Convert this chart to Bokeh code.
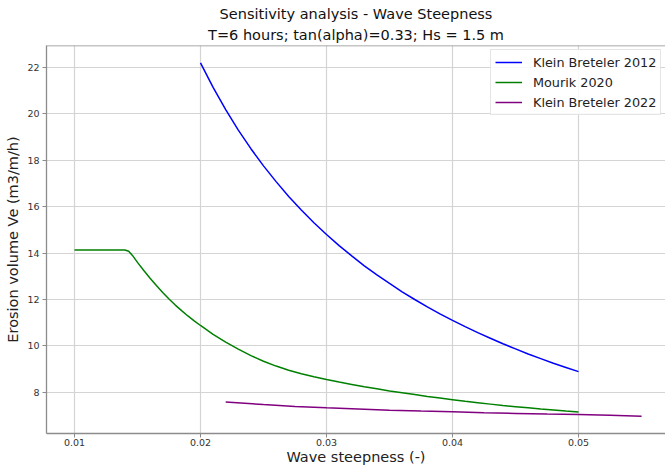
from bokeh.plotting import figure
from bokeh.models import (Title, FixedTicker, PrintfTickFormatter, Legend,
                          LegendItem, Range1d, Span)
from bokeh.embed import file_html
from bokeh.resources import INLINE

# ---- data ----
steep_kb2012 = [0.020, 0.021, 0.022, 0.023, 0.024, 0.025, 0.026, 0.027,
                0.028, 0.029, 0.030, 0.031, 0.032, 0.033, 0.034, 0.035,
                0.036, 0.037, 0.038, 0.039, 0.040, 0.041, 0.042, 0.043,
                0.044, 0.045, 0.046, 0.047, 0.048, 0.049, 0.050]
ve_kb2012 = [22.20, 21.14, 20.18, 19.30, 18.50, 17.76, 17.08, 16.44,
             15.86, 15.31, 14.80, 14.32, 13.88, 13.45, 13.06, 12.69,
             12.33, 12.00, 11.68, 11.38, 11.10, 10.83, 10.57, 10.33,
             10.09, 9.87, 9.65, 9.45, 9.25, 9.07, 8.89]

steep_mourik = [0.0100, 0.0140, 0.0143, 0.0146, 0.0150, 0.0155, 0.0160,
                0.0165, 0.0170, 0.0175, 0.0180, 0.0185, 0.0190, 0.0195,
                0.020, 0.021, 0.022, 0.023, 0.024, 0.025, 0.026, 0.027,
                0.028, 0.029, 0.030, 0.031, 0.032, 0.033, 0.034, 0.035,
                0.036, 0.037, 0.038, 0.039, 0.040, 0.041, 0.042, 0.043,
                0.044, 0.045, 0.046, 0.047, 0.048, 0.049, 0.050]
ve_mourik = [14.13, 14.13, 14.08, 13.90, 13.60, 13.25, 12.92,
             12.60, 12.30, 12.02, 11.76, 11.52, 11.29, 11.08,
             10.88, 10.50, 10.16, 9.86, 9.58, 9.34, 9.13, 8.95,
             8.80, 8.67, 8.55, 8.44, 8.34, 8.24, 8.15, 8.06,
             7.98, 7.90, 7.82, 7.75, 7.68, 7.61, 7.55, 7.49,
             7.43, 7.38, 7.33, 7.28, 7.24, 7.19, 7.15]

steep_kb2022 = [0.022, 0.025, 0.0275, 0.030, 0.0325, 0.035, 0.0375, 0.040,
                0.0425, 0.045, 0.0475, 0.050, 0.0525, 0.055]
ve_kb2022 = [7.58, 7.47, 7.39, 7.33, 7.28, 7.23, 7.19, 7.16,
             7.12, 7.09, 7.06, 7.04, 7.01, 6.97]

x_ticks = [0.01, 0.02, 0.03, 0.04, 0.05]
y_ticks = [8, 10, 12, 14, 16, 18, 20, 22]

title_main = "Sensitivity analysis - Wave Steepness"
title_sub = "T=6 hours; tan(alpha)=0.33; Hs = 1.5 m"
x_label = "Wave steepness (-)"
y_label = "Erosion volume Ve (m3/m/h)"
names = ["Klein Breteler 2012", "Mourik 2020", "Klein Breteler 2022"]
colors = ["#0000ff", "#008000", "#800080"]

FONT = "DejaVu Sans"
SPINE = "#8c8c8c"
Y_TOP = 22.948

p = figure(width=665, height=468, output_backend="svg", toolbar_location=None,
           x_range=Range1d(0.00778, 0.0569), y_range=Range1d(6.224, Y_TOP),
           min_border_left=46, min_border_right=0, min_border_top=45,
           min_border_bottom=35, background_fill_color="white",
           border_fill_color="white")

p.add_layout(Title(text=title_sub, align="center", text_font=FONT,
                   text_font_size="14.5px", text_font_style="normal",
                   text_color="#111111", standoff=5), "above")
p.add_layout(Title(text=title_main, align="center", text_font=FONT,
                   text_font_size="14.5px", text_font_style="normal",
                   text_color="#111111", standoff=1), "above")

renderers = []
for xs, ys, c in [(steep_kb2012, ve_kb2012, colors[0]),
                  (steep_mourik, ve_mourik, colors[1]),
                  (steep_kb2022, ve_kb2022, colors[2])]:
    r = p.line(xs, ys, line_color=c, line_width=1.5)
    renderers.append(r)

p.xaxis.ticker = FixedTicker(ticks=x_ticks)
p.xaxis.formatter = PrintfTickFormatter(format="%.2f")
p.yaxis.ticker = FixedTicker(ticks=y_ticks)

for ax in (p.xaxis[0], p.yaxis[0]):
    ax.axis_line_color = SPINE
    ax.axis_line_width = 1.3
    ax.major_tick_line_color = SPINE
    ax.major_tick_out = 4
    ax.major_tick_in = 0
    ax.minor_tick_line_color = None
    ax.major_label_text_font = FONT
    ax.major_label_text_font_size = "9.5px"
    ax.major_label_text_color = "#333333"
    ax.axis_label_text_font = FONT
    ax.axis_label_text_font_size = "14.5px"
    ax.axis_label_text_font_style = "normal"
    ax.axis_label_text_color = "#222222"

p.xaxis.major_label_standoff = 1
p.xaxis.axis_label_standoff = 0
p.yaxis.major_label_standoff = 3
p.yaxis.axis_label_standoff = 3

p.xaxis.axis_label = x_label
p.yaxis.axis_label = y_label

# top spine only (right spine falls outside the picture in the reference)
p.outline_line_color = None
p.add_layout(Span(location=Y_TOP, dimension="width", line_color=SPINE,
                  line_width=1.3))

p.xgrid.grid_line_color = "#d4d4d4"
p.ygrid.grid_line_color = "#d4d4d4"
p.xgrid.grid_line_width = 1.2
p.ygrid.grid_line_width = 1.2

legend = Legend(items=[LegendItem(label=n, renderers=[r])
                       for n, r in zip(names, renderers)],
                location=(444, 318), orientation="vertical")
legend.label_text_font = FONT
legend.label_text_font_size = "12.8px"
legend.label_text_color = "#222222"
legend.glyph_width = 27
legend.glyph_height = 16
legend.label_height = 16
legend.label_standoff = 11
legend.spacing = 4
legend.padding = 4
legend.margin = 0
legend.border_line_color = "#cccccc"
legend.border_line_width = 1
legend.background_fill_color = "white"
legend.background_fill_alpha = 0.85
p.add_layout(legend, "center")

open("out.html", "w").write(file_html(p, INLINE))
